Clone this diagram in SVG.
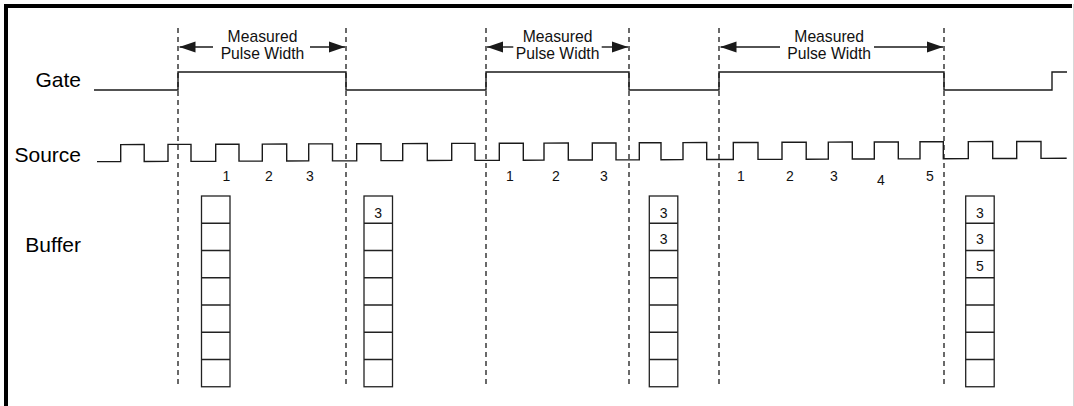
<svg xmlns="http://www.w3.org/2000/svg" xmlns:xlink="http://www.w3.org/1999/xlink" width="1074" height="406" viewBox="0 0 1074 406">
<style>
.lbl{font-family:"Liberation Sans",Arial,sans-serif;font-size:21px;fill:#000;text-anchor:end}
.mp{font-family:"Liberation Sans",Arial,sans-serif;font-size:15.7px;fill:#111;text-anchor:middle}
.num{font-family:"Liberation Sans",Arial,sans-serif;font-size:14px;fill:#111;text-anchor:middle}
.wave{fill:none;stroke:#1a1a1a;stroke-width:1.4}
.dash{fill:none;stroke:#1a1a1a;stroke-width:1.3;stroke-dasharray:5 4}
.arr{fill:none;stroke:#1a1a1a;stroke-width:1.4;marker-end:url(#ah)}
.cell{fill:#fff;stroke:#222;stroke-width:1.3}
</style>
<defs>
<marker id="ah" markerUnits="userSpaceOnUse" markerWidth="16" markerHeight="12" refX="16" refY="6" orient="auto">
<path d="M0,0.5 L16,6 L0,11.5 Z" fill="#1a1a1a"/>
</marker>
<g id="buf">
<rect class="cell" x="0" y="0" width="28.5" height="190.75"/>
<path class="cell" d="M0,27.25H28.5M0,54.5H28.5M0,81.75H28.5M0,109H28.5M0,136.25H28.5M0,163.5H28.5"/>
</g>
</defs>
<rect width="1074" height="406" fill="#fff"/>
<g id="frame">
<path d="M6,406 V6 H1072" fill="none" stroke="#000" stroke-width="4"/>
<line x1="1073.5" y1="4" x2="1073.5" y2="406" stroke="#d8d8d8" stroke-width="1"/>
</g>
<g id="labels">
<text class="lbl" x="81" y="87.3">Gate</text>
<text class="lbl" x="81" y="161.7">Source</text>
<text class="lbl" x="81" y="252">Buffer</text>
</g>
<g id="gate">
<path class="wave" d="M94,90 H178 V72 H346 V90 H486 V72 H629 V90 H719 V72 H944 V90 H1052 V72 H1067"/>
</g>
<g id="source">
<path class="wave" transform="skewY(-0.2)" d="M97,162 H120.7 V145 H144.2 V162 H168 V145 H191 V162 H215.7 V145 H239 V162 H262.3 V145 H286.7 V162 H308.7 V145 H332.5 V162 H356.7 V145 H381 V162 H402.7 V145 H427.3 V162 H451.7 V145 H475 V162 H499.3 V145 H523.3 V162 H544 V145 H568.3 V162 H592.3 V145 H616 V162 H639.3 V145 H661 V162 H683 V145 H706.7 V162 H733.3 V145 H758 V162 H782 V145 H806.2 V162 H828.3 V145 H852.3 V162 H874.3 V145 H898.3 V162 H920 V145 H943.3 V162 H968.3 V145 H992.7 V162 H1016.7 V145 H1041 V162 H1066.7"/>
</g>
<g id="counts">
<text class="num" x="226.5" y="181">1</text>
<text class="num" x="269" y="181">2</text>
<text class="num" x="310" y="181">3</text>
<text class="num" x="510" y="181">1</text>
<text class="num" x="556" y="181">2</text>
<text class="num" x="604" y="181">3</text>
<text class="num" x="741" y="181">1</text>
<text class="num" x="790" y="181">2</text>
<text class="num" x="834" y="181">3</text>
<text class="num" x="881" y="184.5">4</text>
<text class="num" x="930" y="181">5</text>
</g>
<g id="connectors">
<line class="dash" x1="178" y1="28" x2="178" y2="387"/>
<line class="dash" x1="346" y1="28" x2="346" y2="387"/>
<line class="dash" x1="486" y1="28" x2="486" y2="387"/>
<line class="dash" x1="629" y1="28" x2="629" y2="387"/>
<line class="dash" x1="719" y1="28" x2="719" y2="387"/>
<line class="dash" x1="944" y1="28" x2="944" y2="387"/>
<line class="arr" x1="213" y1="47" x2="179.5" y2="47"/>
<line class="arr" x1="310" y1="47" x2="345" y2="47"/>
<line class="arr" x1="513.3" y1="47" x2="487" y2="47"/>
<line class="arr" x1="601.7" y1="47" x2="628" y2="47"/>
<line class="arr" x1="780" y1="47" x2="720.5" y2="47"/>
<line class="arr" x1="874" y1="47" x2="943" y2="47"/>
</g>
<g id="pulse1">
<text class="mp" x="262.5" y="42.3">Measured</text>
<text class="mp" x="262.5" y="59.3">Pulse Width</text>
</g>
<g id="pulse2">
<text class="mp" x="557.6" y="42.3">Measured</text>
<text class="mp" x="557.6" y="59.3">Pulse Width</text>
</g>
<g id="pulse3">
<text class="mp" x="829.2" y="42.3">Measured</text>
<text class="mp" x="829.2" y="59.3">Pulse Width</text>
</g>
<g id="buffer1" transform="translate(201.5,196)">
<use xlink:href="#buf" href="#buf"/>
</g>
<g id="buffer2" transform="translate(364,196)">
<use xlink:href="#buf" href="#buf"/>
<text class="num" x="14.25" y="21.5">3</text>
</g>
<g id="buffer3" transform="translate(649.3,196)">
<use xlink:href="#buf" href="#buf"/>
<text class="num" x="14.25" y="21.5">3</text>
<text class="num" x="14.25" y="47.5">3</text>
</g>
<g id="buffer4" transform="translate(965.7,196)">
<use xlink:href="#buf" href="#buf"/>
<text class="num" x="14.25" y="21.5">3</text>
<text class="num" x="14.25" y="47.5">3</text>
<text class="num" x="14.25" y="74.5">5</text>
</g>
</svg>
